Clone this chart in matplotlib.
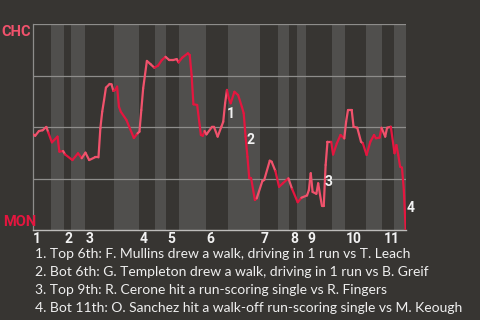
import matplotlib
matplotlib.use("Agg")
import matplotlib.pyplot as plt
import numpy as np
from matplotlib.collections import LineCollection

# CHC win probability (%) after each play, keyed by play number
plays = [0, 1, 3, 5, 7, 8, 10, 13, 14, 16, 17, 21, 24, 26, 28, 30, 33, 35, 36, 37,
         38, 39, 41, 42, 43, 44, 45, 46, 47, 50, 54, 56, 57, 58, 59, 61, 63, 65, 67, 69,
         71, 73, 75, 77, 78, 80, 83, 84, 85, 86, 88, 90, 91, 92, 93, 96, 97, 99, 101, 102,
         103, 104, 105, 106, 108, 110, 112, 113, 114, 115, 116, 117, 119, 120, 123, 124, 127, 128, 130, 132,
         134, 137, 139, 142, 144, 147, 148, 149, 150, 152, 153, 154, 155, 156, 157, 158, 160, 161, 163, 165,
         167, 168, 169, 171, 172, 174, 176, 177, 179, 181, 183, 184, 186, 187, 189, 190, 192, 194, 195, 196,
         197, 198, 199, 200]
chc_wp = [46.5, 45.8, 48.1, 48.5, 50.1, 47.5, 42.6, 45.4, 38.1, 38.4, 36.8, 34.0, 37.3, 34.9, 37.6, 34.0, 35.3, 35.3, 49.4, 57.5,
          63.2, 69.2, 71.0, 70.8, 67.6, 68.1, 69.7, 59.9, 57.5, 53.5, 44.7, 47.0, 47.8, 58.3, 68.9, 82.2, 80.6, 78.9, 79.9, 82.6,
          84.2, 82.6, 82.6, 83.1, 81.5, 83.8, 85.9, 85.1, 75.4, 61.1, 60.8, 46.2, 45.8, 48.1, 46.5, 50.2, 50.2, 45.4, 50.2, 52.6,
          61.6, 68.1, 64.0, 61.6, 67.2, 65.6, 59.9, 56.7, 45.4, 35.6, 25.1, 25.1, 14.6, 15.4, 23.8, 24.3, 33.7, 33.2, 28.7, 21.0,
          22.7, 25.1, 19.9, 13.5, 15.7, 16.8, 19.4, 27.6, 18.5, 17.6, 22.7, 17.0, 11.9, 11.9, 31.6, 42.9, 42.9, 36.7, 42.1, 46.2,
          44.5, 52.6, 58.3, 58.3, 50.2, 49.7, 42.9, 42.1, 36.5, 42.9, 46.2, 44.6, 44.9, 49.7, 45.4, 49.7, 50.2, 37.3, 41.3, 36.5,
          30.8, 30.3, 19.5, 0.0]

# first play of every half inning (top 1st, bot 1st, top 2nd, ...)
half_starts = [0, 10, 17, 21, 28, 44, 57, 66, 72, 79, 93, 105, 122, 132, 138, 142, 147, 161, 168, 179, 188, 194]
last_play = 200
inning_labels = ["1", "2", "3", "4", "5", "6", "7", "8", "9", "10", "11"]

# numbered key plays, label anchored at its lower left corner
note_play = [103.9, 114.6, 156.6, 200.5]
note_wp = [54.4, 41.8, 21.5, 8.6]
notes = [
    "1. Top 6th: F. Mullins drew a walk, driving in 1 run vs T. Leach",
    "2. Bot 6th: G. Templeton drew a walk, driving in 1 run vs B. Greif",
    "3. Top 9th: R. Cerone hit a run-scoring single vs R. Fingers",
    "4. Bot 11th: O. Sanchez hit a walk-off run-scoring single vs M. Keough",
]

BG = "#373532"
STRIPE = "#504f4d"
CHC_COLOR = "#f0526c"
MON_COLOR = "#e4163f"
BOLD = ["Roboto", "DejaVu Sans"]
plt.rcParams["font.family"] = ["Lato", "DejaVu Sans"]

fig = plt.figure(figsize=(4.8, 3.2), dpi=100, facecolor=BG)
ax = fig.add_axes([0.0694, 0.28125, 0.7758, 0.6428])
ax.set_facecolor(BG)

edges = [s - 0.5 for s in half_starts[1:]]
edges = [0] + edges + [last_play]
for k in range(len(half_starts)):
    if k % 2 == 1:
        ax.axvspan(edges[k], edges[k + 1], color=STRIPE, lw=0, zorder=0)

for yv in [25, 50, 75, 100]:
    ax.axhline(yv, color="#8e8d8b", lw=0.9, zorder=1)

# colour each segment by the team at bat when the play happened
x = np.array(plays, dtype=float)
y = np.array(chc_wp)
pts = np.column_stack([x, y])
segs = np.stack([pts[:-1], pts[1:]], axis=1)
half_idx = np.searchsorted(half_starts, x[1:], side="right") - 1
colors = [CHC_COLOR if h % 2 == 0 else MON_COLOR for h in half_idx]
lc = LineCollection(segs, colors=colors, linewidths=1.6, capstyle="round",
                    joinstyle="round", zorder=3)
ax.add_collection(lc)

ax.set_xlim(0, last_play)
ax.set_ylim(0, 100)

for sp in ["top", "right"]:
    ax.spines[sp].set_visible(False)
ax.spines["left"].set_color("#8e8d8b")
ax.spines["bottom"].set_color("#bdbcba")
ax.spines["left"].set_linewidth(0.9)
ax.spines["bottom"].set_linewidth(1.0)

ax.set_yticks([])
ax.set_xticks(half_starts[::2])
ax.set_xticklabels(inning_labels, fontsize=10, fontweight="bold", color="#f2f2f2",
                   ha="left", family=BOLD)
ax.tick_params(axis="x", length=0, pad=1.5)

for num, (px, wy) in enumerate(zip(note_play, note_wp), start=1):
    ax.text(px, wy, str(num), color="#f2f2f2", fontsize=10, fontweight="bold", family=BOLD,
            ha="left", va="baseline", zorder=4, clip_on=False)

fig.text(0.0035, 1 - 36 / 320, "CHC", color=CHC_COLOR, fontsize=10.5, fontweight="bold",
         family=BOLD, va="baseline", ha="left")
fig.text(0.0056, 1 - 226 / 320, "MON", color=MON_COLOR, fontsize=10.5, fontweight="bold",
         family=BOLD, va="baseline", ha="left")

for i, line in enumerate(notes):
    fig.text(0.073, 1 - (258.5 + 18 * i) / 320, line, color="#efefef", fontsize=10,
             va="baseline", ha="left")

fig.savefig("out.png", dpi=100, facecolor=BG)
